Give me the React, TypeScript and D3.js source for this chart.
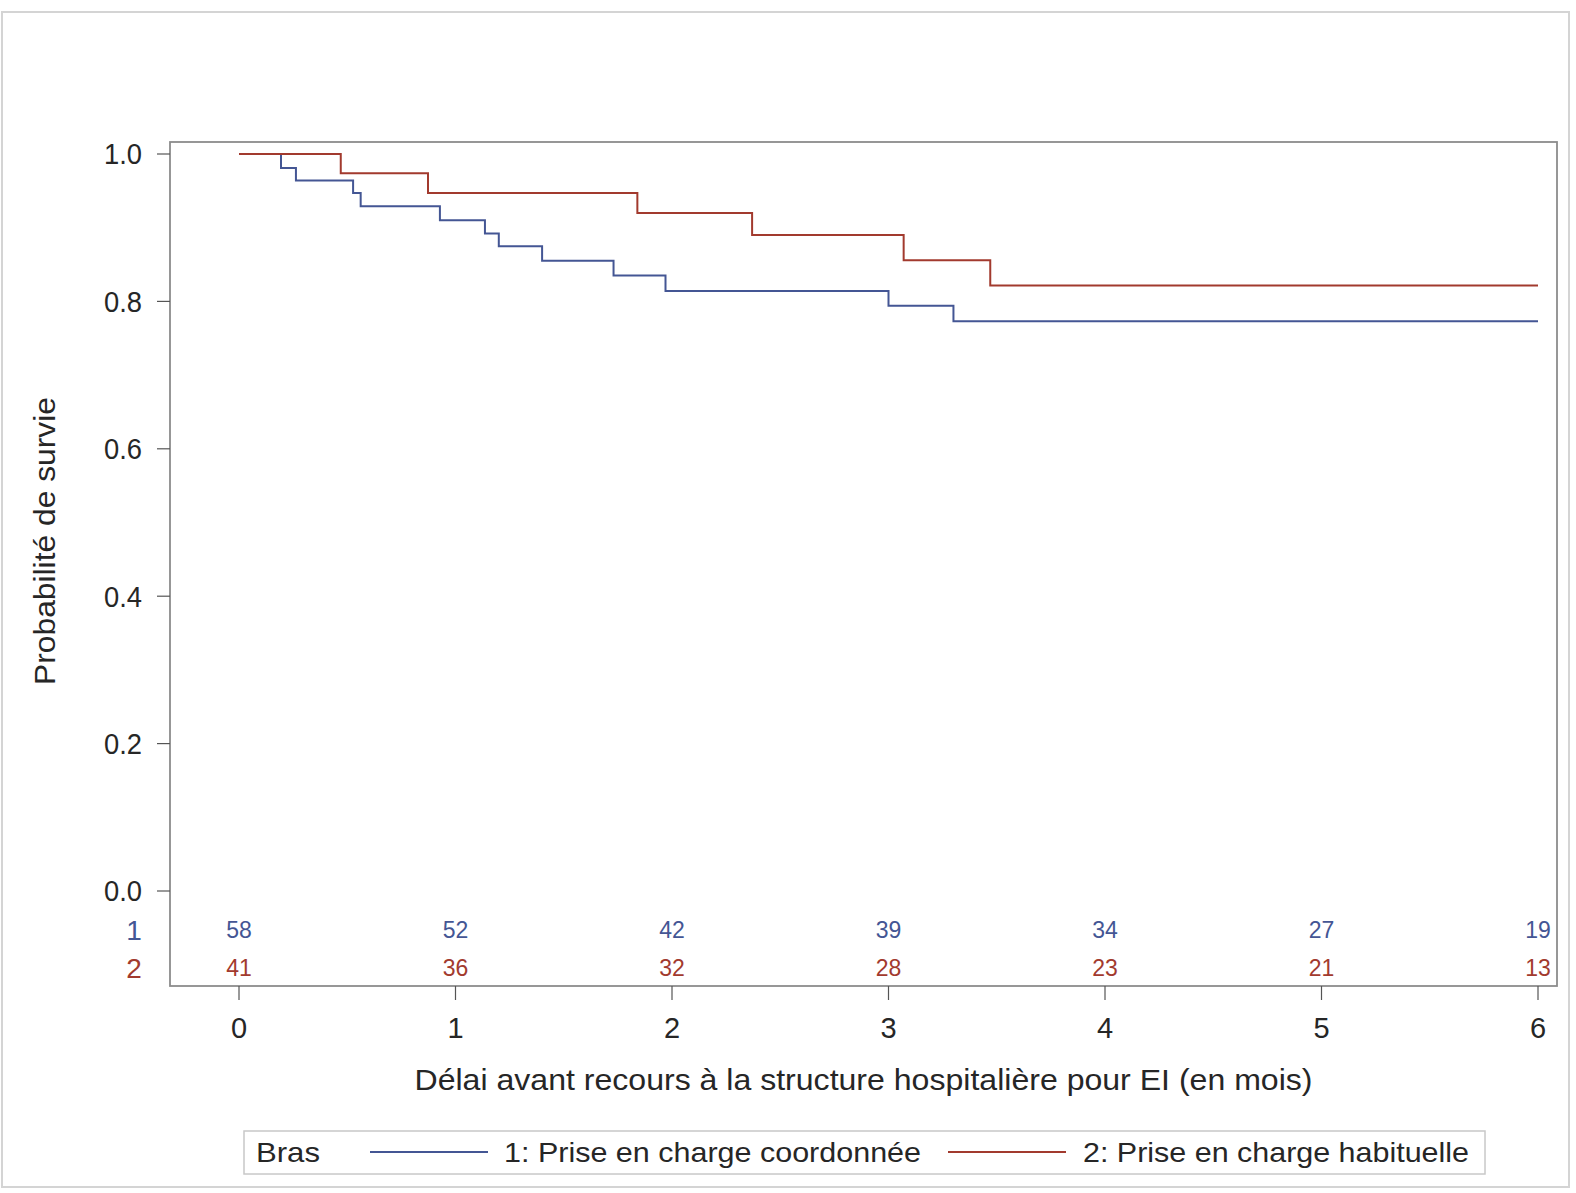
import * as d3 from 'd3';
import * as React from 'react';

// Kaplan-Meier estimates
const timesArm1 = [0, 0.194, 0.263, 0.527, 0.562, 0.928, 1.136, 1.2, 1.4, 1.73, 1.97, 3.0, 3.3, 6];
const survArm1 = [1, 0.981, 0.964, 0.947, 0.929, 0.91, 0.892, 0.875, 0.855, 0.835, 0.814, 0.794, 0.773, 0.773];
const timesArm2 = [0, 0.47, 0.873, 1.84, 2.37, 3.07, 3.47, 6];
const survArm2 = [1, 0.974, 0.947, 0.92, 0.89, 0.856, 0.8215, 0.8215];

// number at risk
const riskTimes = [0, 1, 2, 3, 4, 5, 6];
const atRiskArm1 = [58, 52, 42, 39, 34, 27, 19];
const atRiskArm2 = [41, 36, 32, 28, 23, 21, 13];

const yTicks = [0, 0.2, 0.4, 0.6, 0.8, 1.0];
const armLabels = ['1: Prise en charge coordonnée', '2: Prise en charge habituelle'];

const BLUE = '#445694';
const RED = '#A23A2E';
const TEXT = '#262626';
const FONT = '"Liberation Sans", Arial, sans-serif';

const W = 1576;
const H = 1193;
const frame = { left: 170, right: 1557, top: 142, bottom: 986 };

export default function App() {
  const x = d3.scaleLinear().domain([0, 6]).range([239, 1538]);
  const y = d3.scaleLinear().domain([0, 1]).range([891, 154]);

  const line = d3
    .line<[number, number]>()
    .x((d) => x(d[0]))
    .y((d) => y(d[1]))
    .curve(d3.curveStepAfter);

  const arm1 = line(timesArm1.map((t, i) => [t, survArm1[i]]));
  const arm2 = line(timesArm2.map((t, i) => [t, survArm2[i]]));

  const cx = (frame.left + frame.right) / 2;

  return (
    <svg
      width={W}
      height={H}
      style={{ position: 'absolute', left: 0, top: 0, background: '#fff' }}
      fontFamily={FONT}
    >
      <rect x={2} y={12} width={1567} height={1175} fill="none" stroke="#d4d4d4" strokeWidth={2} />

      {/* plot frame */}
      <rect
        x={frame.left}
        y={frame.top}
        width={frame.right - frame.left}
        height={frame.bottom - frame.top}
        fill="none"
        stroke="#8c8c8c"
        strokeWidth={1.8}
      />

      {/* y axis */}
      {yTicks.map((t) => (
        <g key={t}>
          <line x1={frame.left - 13} x2={frame.left} y1={y(t)} y2={y(t)} stroke="#555" strokeWidth={1.2} />
          <text
            x={142}
            y={y(t)}
            dy="0.36em"
            textAnchor="end"
            fontSize={29}
            fill={TEXT}
            textLength={38}
            lengthAdjust="spacingAndGlyphs"
          >
            {t.toFixed(1)}
          </text>
        </g>
      ))}
      <text
        transform={`translate(44, 541) rotate(-90)`}
        textAnchor="middle"
        dy="0.36em"
        fontSize={30}
        fill={TEXT}
        textLength={288}
        lengthAdjust="spacingAndGlyphs"
      >
        Probabilité de survie
      </text>

      {/* x axis */}
      {riskTimes.map((t) => (
        <g key={t}>
          <line x1={x(t)} x2={x(t)} y1={frame.bottom} y2={frame.bottom + 14} stroke="#555" strokeWidth={1.2} />
          <text x={x(t)} y={1028} dy="0.36em" textAnchor="middle" fontSize={29} fill={TEXT}>
            {t}
          </text>
        </g>
      ))}
      <text
        x={cx}
        y={1079}
        dy="0.36em"
        textAnchor="middle"
        fontSize={30}
        fill={TEXT}
        textLength={898}
        lengthAdjust="spacingAndGlyphs"
      >
        Délai avant recours à la structure hospitalière pour EI (en mois)
      </text>

      {/* survival curves */}
      <path d={arm1 ?? ''} fill="none" stroke={BLUE} strokeWidth={2} />
      <path d={arm2 ?? ''} fill="none" stroke={RED} strokeWidth={2} />

      {/* number at risk */}
      <text x={134} y={930} dy="0.36em" textAnchor="middle" fontSize={28} fill={BLUE}>
        1
      </text>
      <text x={134} y={968} dy="0.36em" textAnchor="middle" fontSize={28} fill={RED}>
        2
      </text>
      {riskTimes.map((t, i) => (
        <g key={t}>
          <text x={x(t)} y={930} dy="0.36em" textAnchor="middle" fontSize={23} fill={BLUE}>
            {atRiskArm1[i]}
          </text>
          <text x={x(t)} y={968} dy="0.36em" textAnchor="middle" fontSize={23} fill={RED}>
            {atRiskArm2[i]}
          </text>
        </g>
      ))}

      {/* legend */}
      <rect x={244} y={1131} width={1241} height={43} fill="#fff" stroke="#c8c8c8" strokeWidth={1.5} />
      <text x={256} y={1152} dy="0.36em" fontSize={28} fill={TEXT} textLength={64} lengthAdjust="spacingAndGlyphs">
        Bras
      </text>
      <line x1={370} x2={488} y1={1152} y2={1152} stroke={BLUE} strokeWidth={2} />
      <text x={504} y={1152} dy="0.36em" fontSize={28} fill={TEXT} textLength={417} lengthAdjust="spacingAndGlyphs">
        {armLabels[0]}
      </text>
      <line x1={948} x2={1066} y1={1152} y2={1152} stroke={RED} strokeWidth={2} />
      <text x={1083} y={1152} dy="0.36em" fontSize={28} fill={TEXT} textLength={386} lengthAdjust="spacingAndGlyphs">
        {armLabels[1]}
      </text>
    </svg>
  );
}
